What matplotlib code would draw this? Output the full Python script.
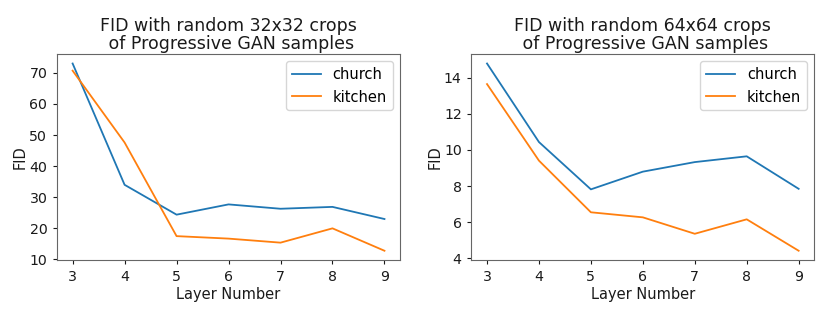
import matplotlib
matplotlib.use("Agg")
from matplotlib import pyplot as plt

layers = [3, 4, 5, 6, 7, 8, 9]

church_32 = [73.0, 34.0, 24.4, 27.7, 26.3, 26.9, 23.0]
kitchen_32 = [70.7, 47.6, 17.5, 16.7, 15.4, 20.0, 12.8]

church_64 = [14.79, 10.44, 7.82, 8.80, 9.33, 9.65, 7.85]
kitchen_64 = [13.65, 9.41, 6.55, 6.27, 5.36, 6.16, 4.42]

titles = ["FID with random 32x32 crops\n of Progressive GAN samples",
          "FID with random 64x64 crops\n of Progressive GAN samples"]

fig = plt.figure(figsize=(8.3, 3.13), dpi=100)

ax1 = fig.add_axes([0.0687, 0.169, 0.4133, 0.658])
ax2 = fig.add_axes([0.568, 0.169, 0.413, 0.658])

for ax, church, kitchen, title in [(ax1, church_32, kitchen_32, titles[0]),
                                   (ax2, church_64, kitchen_64, titles[1])]:
    ax.plot(layers, church, label="church", linewidth=1.3)
    ax.plot(layers, kitchen, label="kitchen", linewidth=1.3)
    ax.set_title(title, fontsize=12.5, linespacing=0.95, pad=4, color="#1a1a1a")
    ax.set_xlabel("Layer Number", fontsize=10.5, labelpad=2, color="#1a1a1a")
    ax.set_ylabel("FID", fontsize=10.5, labelpad=1, color="#1a1a1a")
    ax.tick_params(labelsize=10.2, length=3, pad=4, colors="#1a1a1a")
    ax.set_xticks(layers)
    ax.legend(fontsize=10.5, loc="upper right")
    for s in ax.spines.values():
        s.set_color("#666666")

fig.savefig("out.png", dpi=100)
